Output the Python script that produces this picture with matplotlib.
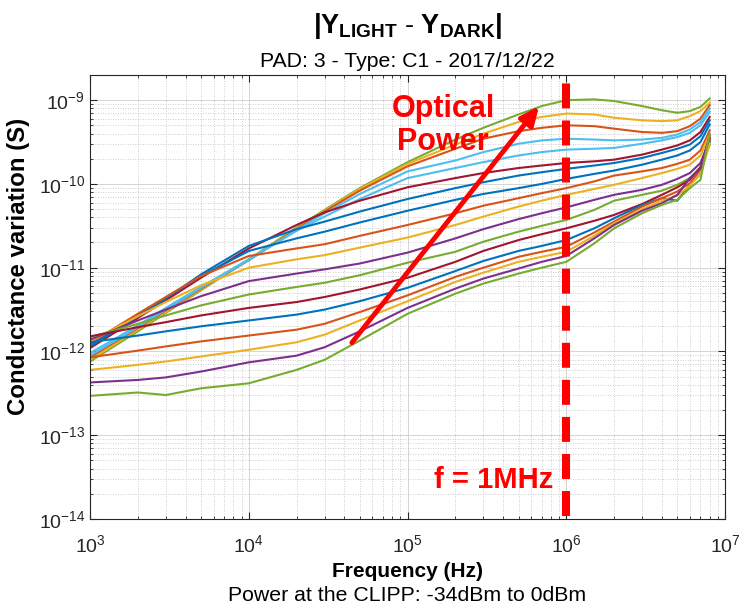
import numpy as np
import matplotlib.pyplot as plt
from matplotlib.ticker import LogLocator, NullFormatter

plt.rcParams['font.family'] = ['Liberation Sans', 'DejaVu Sans']
plt.rcParams['mathtext.fontset'] = 'custom'
plt.rcParams['mathtext.rm'] = 'Liberation Sans'
plt.rcParams['mathtext.bf'] = 'Liberation Sans:bold'
plt.rcParams['mathtext.it'] = 'Liberation Sans:italic'

# frequencies (Hz) where the curves were read
freq = [1e3, 2e3, 3e3, 5e3, 1e4, 2e4, 3e4, 5e4, 1e5, 2e5, 3e5, 5e5, 7e5,
        1e6, 1.5e6, 2e6, 3e6, 4e6, 5e6, 6e6, 7e6, 8e6]

# log10 |Y_light - Y_dark| (S), one list per optical power step
g_0dBm = [-12.12, -11.76, -11.54, -11.27, -10.90, -10.52, -10.31, -10.05, -9.74, -9.47, -9.33, -9.17, -9.07, -9.00, -8.99, -9.01, -9.07, -9.12, -9.15, -9.13, -9.08, -8.98]
g_m2dBm = [-12.10, -11.74, -11.53, -11.26, -10.91, -10.53, -10.32, -10.06, -9.76, -9.53, -9.40, -9.26, -9.20, -9.16, -9.17, -9.21, -9.24, -9.25, -9.24, -9.19, -9.13, -9.03]
g_m4dBm = [-12.07, -11.72, -11.51, -11.25, -10.91, -10.54, -10.33, -10.08, -9.79, -9.58, -9.46, -9.37, -9.33, -9.30, -9.31, -9.34, -9.38, -9.39, -9.37, -9.31, -9.22, -9.06]
g_m6dBm = [-12.05, -11.71, -11.50, -11.24, -10.91, -10.55, -10.35, -10.12, -9.85, -9.72, -9.62, -9.52, -9.48, -9.46, -9.47, -9.48, -9.47, -9.45, -9.41, -9.35, -9.26, -9.10]
g_m8dBm = [-12.02, -11.69, -11.48, -11.23, -10.90, -10.56, -10.39, -10.18, -9.93, -9.81, -9.74, -9.66, -9.62, -9.59, -9.58, -9.57, -9.52, -9.48, -9.44, -9.39, -9.30, -9.14]
g_m10dBm = [-11.96, -11.60, -11.39, -11.12, -10.77, -10.49, -10.34, -10.20, -10.04, -9.93, -9.87, -9.81, -9.78, -9.75, -9.73, -9.71, -9.65, -9.59, -9.54, -9.48, -9.38, -9.20]
g_m12dBm = [-11.94, -11.58, -11.37, -11.08, -10.74, -10.54, -10.45, -10.33, -10.18, -10.05, -9.98, -9.90, -9.86, -9.82, -9.78, -9.75, -9.69, -9.63, -9.58, -9.53, -9.43, -9.24]
g_m14dBm = [-11.92, -11.57, -11.36, -11.10, -10.80, -10.65, -10.57, -10.46, -10.32, -10.19, -10.12, -10.05, -10.00, -9.94, -9.88, -9.84, -9.77, -9.71, -9.66, -9.60, -9.50, -9.29]
g_m16dBm = [-11.90, -11.55, -11.35, -11.10, -10.86, -10.77, -10.72, -10.62, -10.49, -10.35, -10.26, -10.17, -10.11, -10.05, -9.97, -9.90, -9.85, -9.81, -9.76, -9.71, -9.60, -9.36]
g_m18dBm = [-11.88, -11.58, -11.41, -11.21, -11.00, -10.90, -10.85, -10.76, -10.64, -10.49, -10.39, -10.27, -10.20, -10.13, -10.06, -10.01, -9.93, -9.87, -9.82, -9.77, -9.66, -9.41]
g_m20dBm = [-11.86, -11.63, -11.50, -11.34, -11.16, -11.07, -11.02, -10.95, -10.82, -10.65, -10.54, -10.42, -10.35, -10.28, -10.19, -10.13, -10.07, -10.01, -9.94, -9.87, -9.75, -9.47]
g_m22dBm = [-11.83, -11.67, -11.57, -11.45, -11.32, -11.23, -11.18, -11.09, -10.94, -10.81, -10.69, -10.57, -10.50, -10.43, -10.31, -10.20, -10.13, -10.08, -10.01, -9.93, -9.80, -9.53]
g_m24dBm = [-11.82, -11.71, -11.65, -11.57, -11.48, -11.41, -11.35, -11.26, -11.12, -10.93, -10.80, -10.67, -10.60, -10.53, -10.44, -10.37, -10.24, -10.13, -10.04, -9.95, -9.80, -9.45]
g_m26dBm = [-11.89, -11.81, -11.76, -11.70, -11.63, -11.56, -11.50, -11.40, -11.24, -11.04, -10.92, -10.80, -10.74, -10.67, -10.53, -10.41, -10.25, -10.17, -10.20, -10.01, -9.88, -9.50]
g_m28dBm = [-12.07, -11.99, -11.94, -11.88, -11.81, -11.74, -11.67, -11.53, -11.33, -11.11, -11.00, -10.87, -10.81, -10.75, -10.58, -10.45, -10.27, -10.17, -10.09, -9.99, -9.83, -9.48]
g_m30dBm = [-12.22, -12.16, -12.12, -12.06, -11.98, -11.89, -11.80, -11.63, -11.40, -11.17, -11.06, -10.93, -10.87, -10.81, -10.62, -10.47, -10.30, -10.20, -10.14, -10.02, -9.88, -9.52]
g_m32dBm = [-12.37, -12.34, -12.31, -12.24, -12.13, -12.05, -11.95, -11.76, -11.48, -11.25, -11.13, -11.01, -10.93, -10.86, -10.65, -10.49, -10.32, -10.23, -10.13, -9.93, -9.82, -9.42]
g_m34dBm = [-12.53, -12.49, -12.52, -12.44, -12.38, -12.22, -12.10, -11.87, -11.55, -11.31, -11.19, -11.07, -11.00, -10.93, -10.71, -10.53, -10.35, -10.25, -10.19, -10.05, -9.95, -9.40]

curves = [g_0dBm, g_m2dBm, g_m4dBm, g_m6dBm, g_m8dBm, g_m10dBm, g_m12dBm, g_m14dBm, g_m16dBm,
          g_m18dBm, g_m20dBm, g_m22dBm, g_m24dBm, g_m26dBm, g_m28dBm, g_m30dBm, g_m32dBm, g_m34dBm]

# matlab default line colours
BLUE, ORANGE, YELLOW, PURPLE = '#0072BD', '#D95319', '#EDB120', '#7E2F8E'
GREEN, LBLUE, DRED = '#77AC30', '#4DBEEE', '#A2142F'
colors = [GREEN, YELLOW, ORANGE, LBLUE, LBLUE, DRED, BLUE, BLUE, ORANGE,
          YELLOW, PURPLE, GREEN, DRED, BLUE, ORANGE, YELLOW, PURPLE, GREEN]

f_mark = 1e6

fig = plt.figure(figsize=(7.41, 6.12), dpi=100)
ax = fig.add_axes([0.1215, 0.152, 0.857, 0.7255])

for g, c in zip(curves, colors):
    ax.plot(freq, 10.0 ** np.array(g), color=c, lw=1.5)

ax.set_xscale('log')
ax.set_yscale('log')
ax.set_xlim(1e3, 1e7)
ax.set_ylim(1e-14, 2e-9)

ax.xaxis.set_major_locator(LogLocator(base=10, numticks=10))
ax.yaxis.set_major_locator(LogLocator(base=10, numticks=10))
ax.xaxis.set_minor_locator(LogLocator(base=10, subs=np.arange(2, 10), numticks=20))
ax.yaxis.set_minor_locator(LogLocator(base=10, subs=np.arange(2, 10), numticks=20))
ax.xaxis.set_minor_formatter(NullFormatter())
ax.yaxis.set_minor_formatter(NullFormatter())

ax.grid(True, which='major', color='#d4d4d4', lw=0.7, ls='-')
ax.grid(True, which='minor', color='#bdbdbd', lw=0.6, ls=(0, (1, 2)))
ax.set_axisbelow(True)
ax.tick_params(which='both', direction='in', top=True, right=True, colors='#262626')
ax.tick_params(which='major', length=5, labelsize=14)
ax.tick_params(axis='x', which='major', pad=11)
ax.tick_params(which='minor', length=2.5)
for s in ax.spines.values():
    s.set_color('#262626')
    s.set_linewidth(0.8)

# 1 MHz marker and optical power arrow
ax.plot([f_mark, f_mark], [1.1e-14, 1.8e-9], color='red', lw=5.8, ls=(0, (3.1, 1.5)))
ax.annotate('', xy=(6.9e5, 9.0e-10), xytext=(4.35e4, 1.2e-12),
            arrowprops=dict(arrowstyle='-|>,head_length=1.1,head_width=0.5', color='red', lw=3.5))
ax.text(1.67e5, 5.0e-10, 'Optical\nPower', color='red', fontsize=22, fontweight='bold',
        ha='center', va='center', linespacing=1.1)
ax.text(8.3e5, 2.9e-14, 'f = 1MHz', color='red', fontsize=21, fontweight='bold',
        ha='right', va='center')

ax.set_xlabel('Frequency (Hz)', fontsize=15, fontweight='bold')
ax.xaxis.set_label_coords(0.5, -0.097)
ax.set_ylabel('Conductance variation (S)', fontsize=17.3, fontweight='bold')
ax.yaxis.set_label_coords(-0.094, 0.57)

fig.text(0.55, 0.958, r'$\mathbf{|Y_{LIGHT}\ \text{-}\ Y_{DARK}|}$', fontsize=19.5, ha='center', va='center')
fig.text(0.55, 0.899, 'PAD: 3 - Type: C1 - 2017/12/22', fontsize=15.3, ha='center', va='center')
fig.text(0.55, 0.027, 'Power at the CLIPP: -34dBm to 0dBm', fontsize=15.3, ha='center', va='center')

fig.savefig('out.png', dpi=100)
